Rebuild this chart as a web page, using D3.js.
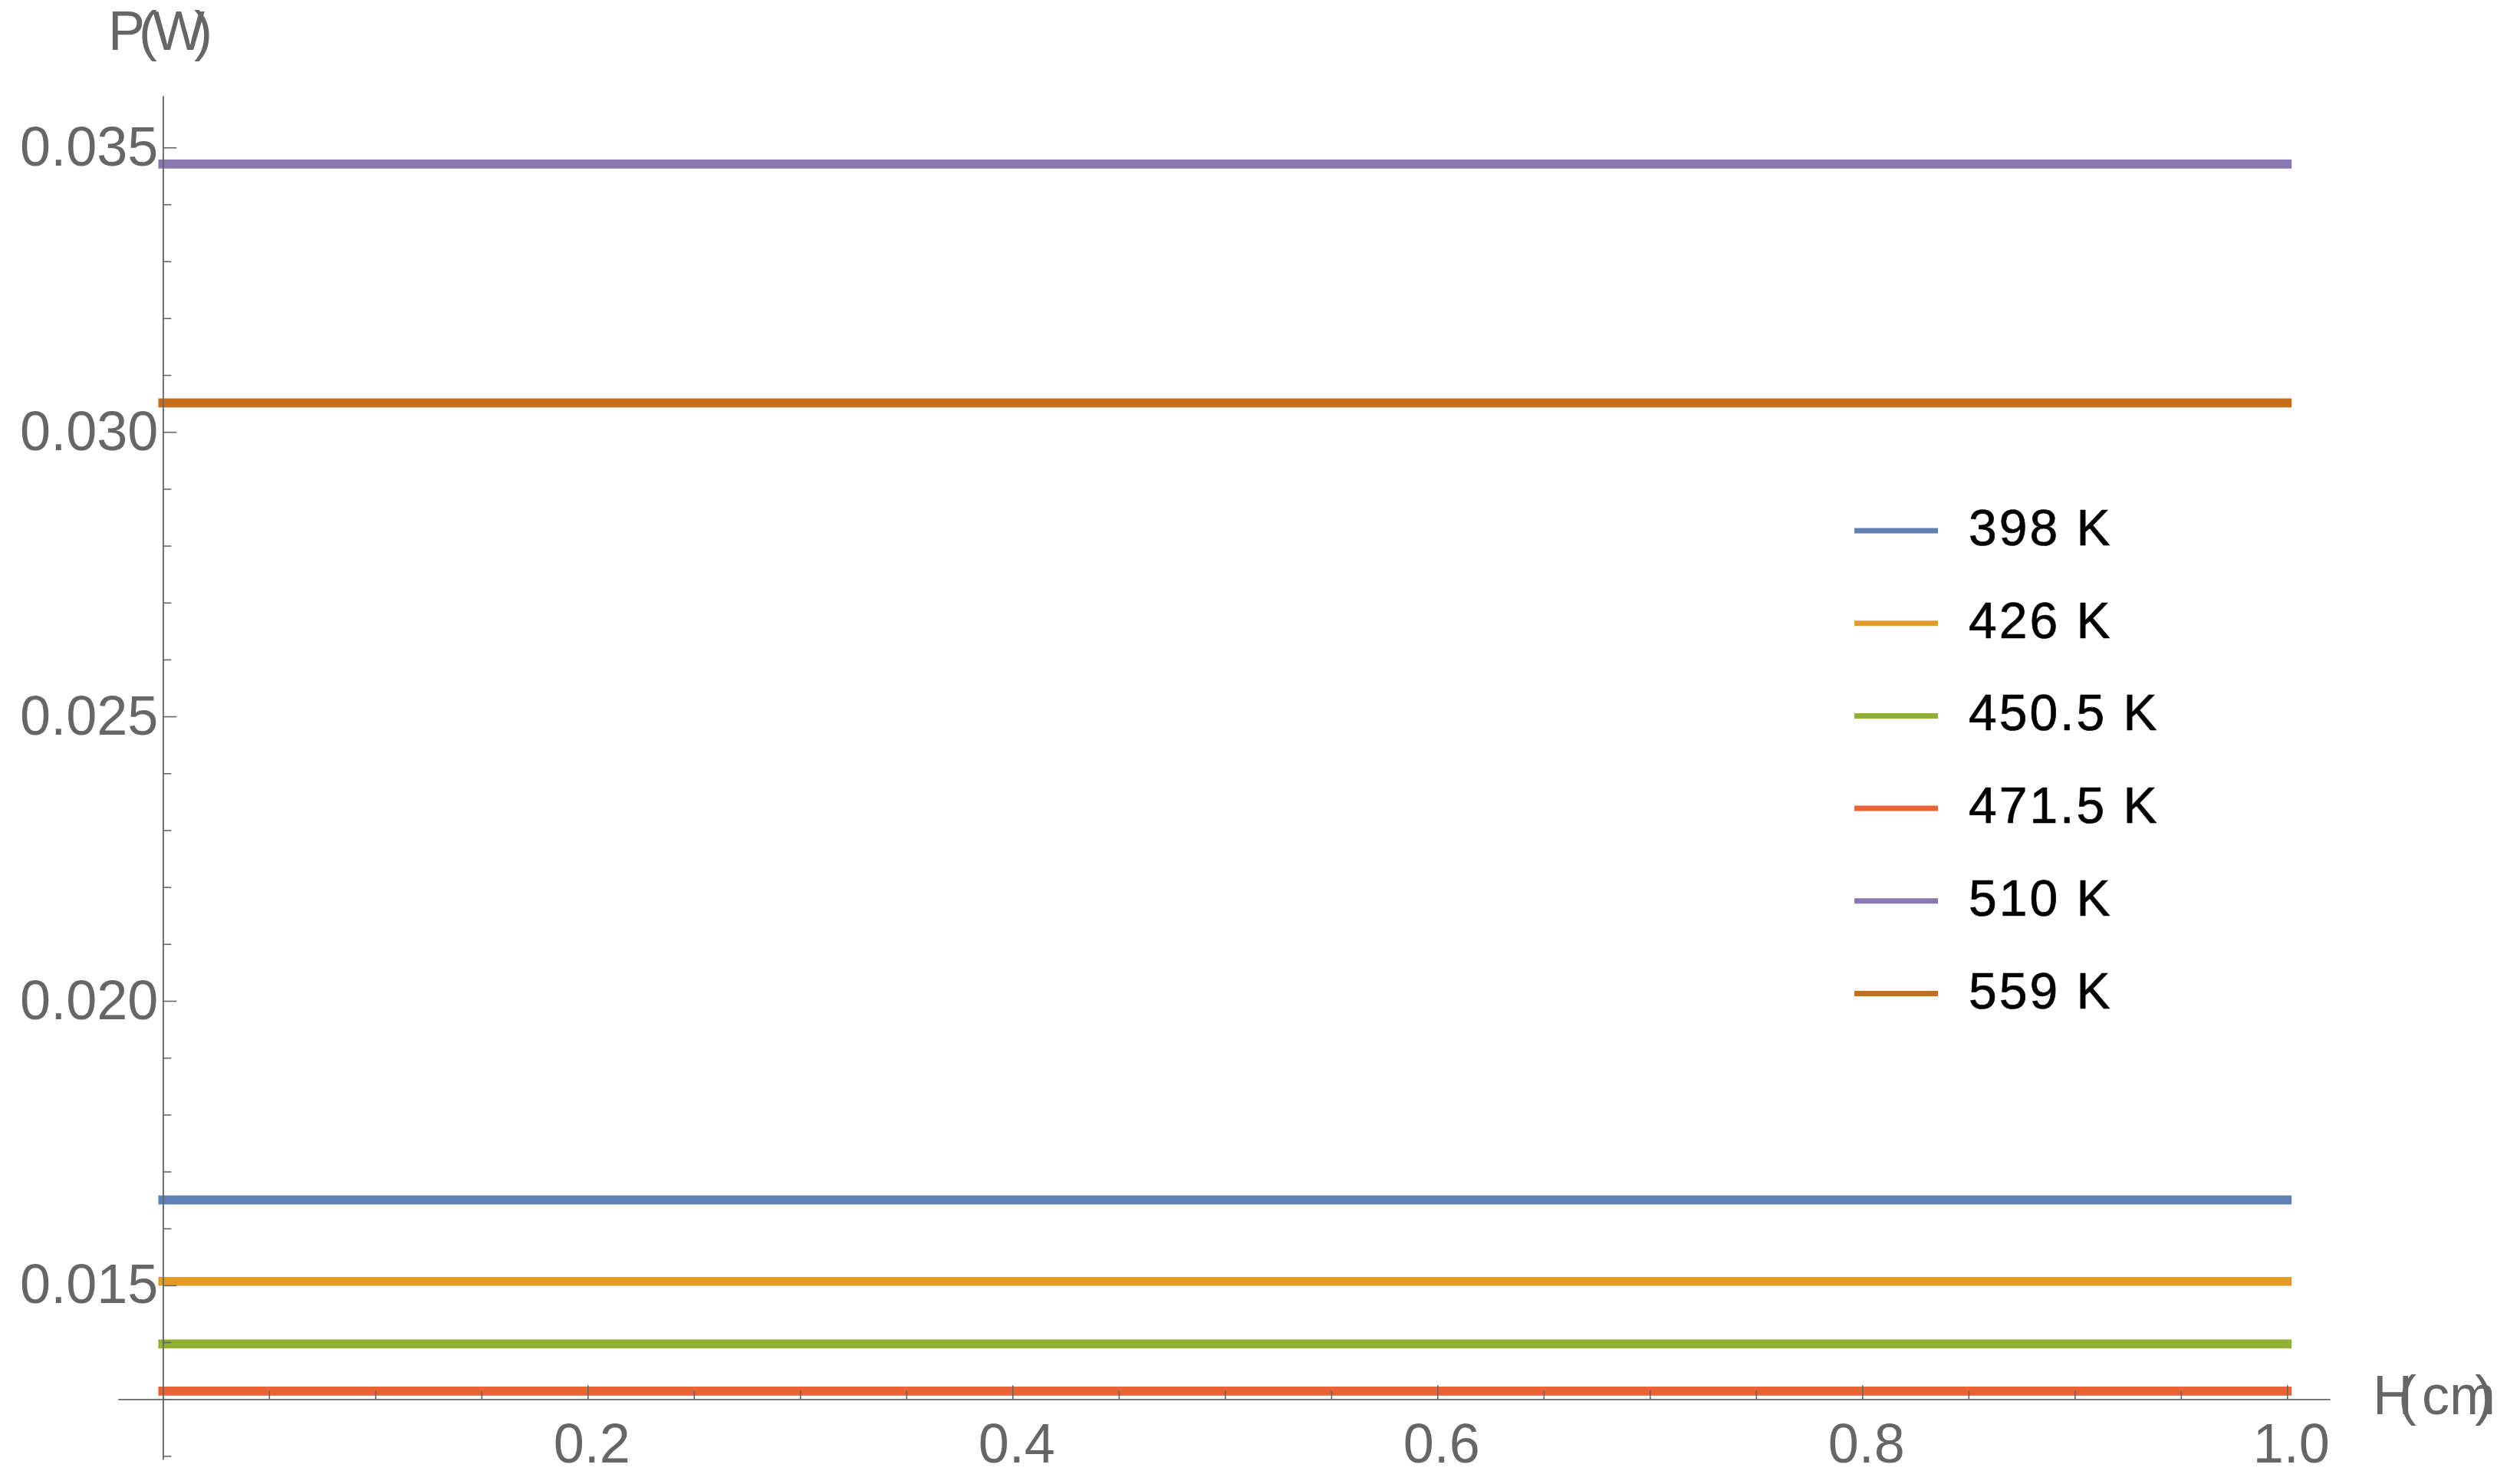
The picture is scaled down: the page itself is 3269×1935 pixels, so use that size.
<!DOCTYPE html>
<html>
<head>
<meta charset="utf-8">
<script src="https://cdn.jsdelivr.net/npm/d3@7"></script>
<style>
  html, body { margin: 0; padding: 0; background: #fff; }
  svg { display: block; font-family: "Liberation Sans", Arial, sans-serif; }
</style>
</head>
<body>
<svg id="chart" width="3269" height="1935"></svg>
<script>
/* ── Data ──────────────────────────────────────────────────── */
const temps   = ['398 K', '426 K', '450.5 K', '471.5 K', '510 K', '559 K'];
const powerW  = [0.01650, 0.01507, 0.01397, 0.01314, 0.03471, 0.03051];
const colors  = ['#5e81b5', '#e19c24', '#8fb032', '#eb6235', '#8778b3', '#c56e1a'];
const hRange  = [0, 1];                       // H(cm) span of each curve
const xMajor  = [0.2, 0.4, 0.6, 0.8, 1.0];
const xMinor  = [0.05, 0.1, 0.15, 0.25, 0.3, 0.35, 0.45, 0.5, 0.55, 0.65, 0.7, 0.75, 0.85, 0.9, 0.95];
const yMajor  = [0.015, 0.020, 0.025, 0.030, 0.035];
const yMinor  = [0.012, 0.013, 0.014, 0.016, 0.017, 0.018, 0.019, 0.021, 0.022, 0.023, 0.024,
                 0.026, 0.027, 0.028, 0.029, 0.031, 0.032, 0.033, 0.034];

const AXIS = '#666666';
const FONT = 72;

/* ── Scales ────────────────────────────────────────────────── */
const svg = d3.select('#chart');
const x = d3.scaleLinear().domain([-0.02105, 1.0201]).range([154, 3038]);
const y = d3.scaleLinear().domain([0.011943, 0.035907]).range([1902.7, 125]);

/* ── Curves ────────────────────────────────────────────────── */
const line = d3.line().x(d => x(d[0])).y(d => y(d[1]));
svg.append('g').selectAll('path')
  .data(powerW)
  .join('path')
    .attr('d', v => line(hRange.map(h => [h, v])))
    .attr('fill', 'none')
    .attr('stroke', (d, i) => colors[i])
    .attr('stroke-width', 11.7)
    .attr('stroke-linecap', 'square');

/* ── Axes ──────────────────────────────────────────────────── */
function styleAxis(g) {
  g.selectAll('.domain').attr('stroke', AXIS).attr('stroke-width', 1.6);
  g.selectAll('.tick line').attr('stroke', AXIS).attr('stroke-width', 1.6);
  g.selectAll('.tick text')
    .attr('fill', AXIS)
    .attr('font-size', FONT)
    .attr('font-family', '"Liberation Sans", Arial, sans-serif');
}

const xAxisY = y(0.013);
const yAxisX = x(0);

svg.append('g')
  .attr('transform', `translate(0,${xAxisY})`)
  .call(d3.axisBottom(x).tickValues(xMinor).tickSize(-11).tickSizeOuter(0).tickFormat(''))
  .call(styleAxis);

svg.append('g')
  .attr('transform', `translate(0,${xAxisY})`)
  .call(d3.axisBottom(x).tickValues(xMajor).tickSize(-18).tickSizeOuter(0)
        .tickPadding(32).tickFormat(d3.format('.1f')))
  .call(styleAxis)
  .call(g => g.selectAll('.tick text').attr('dx', 5));

svg.append('g')
  .attr('transform', `translate(${yAxisX},0)`)
  .call(d3.axisLeft(y).tickValues(yMinor).tickSize(-11).tickSizeOuter(0).tickFormat(''))
  .call(styleAxis);

svg.append('g')
  .attr('transform', `translate(${yAxisX},0)`)
  .call(d3.axisLeft(y).tickValues(yMajor).tickSize(-18).tickSizeOuter(0)
        .tickPadding(6).tickFormat(d3.format('.3f')))
  .call(styleAxis);

/* ── Axis labels (squeezed glyphs like the Mathematica output) ── */
svg.append('text')
  .attr('x', 141).attr('y', 65)
  .attr('dx', '0 -8 -6 -14')
  .attr('fill', AXIS).attr('font-size', FONT)
  .text('P(W)');

svg.append('text')
  .attr('x', 3094).attr('y', 1844)
  .attr('dx', '0 -19 7 0 -27')
  .attr('fill', AXIS).attr('font-size', FONT)
  .text('H(cm)');

/* ── Legend ────────────────────────────────────────────────── */
const legend = svg.append('g').attr('transform', 'translate(2418,692)');
const rows = legend.selectAll('g')
  .data(temps)
  .join('g')
    .attr('transform', (d, i) => `translate(0,${i * 120.7})`);
rows.append('line')
  .attr('x1', 0).attr('x2', 109)
  .attr('stroke', (d, i) => colors[i])
  .attr('stroke-width', 7);
rows.append('text')
  .attr('x', 149).attr('y', 19)
  .attr('font-size', 66)
  .attr('letter-spacing', 3)
  .attr('fill', '#000')
  .attr('stroke', '#000')
  .attr('stroke-width', 0.7)
  .text(d => d);
</script>
</body>
</html>
